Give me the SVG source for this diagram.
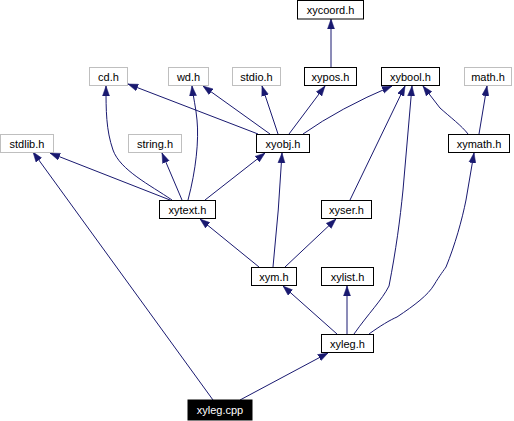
<svg xmlns="http://www.w3.org/2000/svg" width="514" height="421" viewBox="0 0 514 421">
<style>
.n rect{fill:#fff;stroke:#000;stroke-width:1}
.g rect{stroke:#bfbfbf}
.n text{font-family:"Liberation Sans",Arial,sans-serif;font-size:11px;text-anchor:middle;fill:#000}
.r rect{fill:#000}
.r text{fill:#fff}
.e path{fill:none;stroke:#191970;stroke-width:1;marker-end:url(#ah)}
</style>
<defs>
<marker id="ah" markerUnits="userSpaceOnUse" markerWidth="10" markerHeight="8" refX="10" refY="4" orient="auto">
<path d="M0,0.5 L10,4 L0,7.5 z" fill="#191970" stroke="#191970" stroke-width="0.5"/>
</marker>
</defs>
<rect width="514" height="421" fill="#fff"/>
<g class="e" id="connectors">
<path d="M331,67 L331,19"/>
<path d="M289,134 L325,86"/>
<path d="M303,134 Q340,108 392,86"/>
<path d="M278,134 L262,86"/>
<path d="M270,134 L203,86"/>
<path d="M258,134 L128,84"/>
<path d="M468,134 C462,126 450,117 440,108 L423,86"/>
<path d="M479,134 L487,86"/>
<path d="M170,200 L50,153"/>
<path d="M182,200 L162,153"/>
<path d="M172,200 C150,185 120,170 113,150 C106,130 106,110 106,86"/>
<path d="M188,200 C196,170 199,140 197,120 C196,108 193,96 192,86"/>
<path d="M205,200 L265,153"/>
<path d="M259,267 L200,219"/>
<path d="M273,267 Q279,210 282,153"/>
<path d="M285,267 L336,219"/>
<path d="M350,200 L405,86"/>
<path d="M337,334 L283,286"/>
<path d="M347,334 L347,286"/>
<path d="M354,334 C368,314 382,300 389,286 C396,250 400,220 403,190 L412,86"/>
<path d="M369,334 C380,326 390,320 397,317 C415,305 428,295 434,285 C440,275 444,270 446,267 C455,245 462,220 466,200 L474,153"/>
<path d="M213,400 L33,152"/>
<path d="M240,400 L328,353"/>
</g>
<g class="n" id="xycoord"><rect x="297.5" y="0.5" width="66" height="18.5"/><text x="330.5" y="14">xycoord.h</text></g>
<g class="n" id="xypos"><rect x="304.5" y="67.5" width="52" height="18"/><text x="330.5" y="80.5">xypos.h</text></g>
<g class="n" id="xybool"><rect x="381.5" y="67.5" width="58" height="18"/><text x="410.5" y="80.5">xybool.h</text></g>
<g class="n g" id="math"><rect x="464.5" y="67.5" width="47" height="18"/><text x="488" y="80.5">math.h</text></g>
<g class="n g" id="stdio"><rect x="232.5" y="67.5" width="48" height="18"/><text x="256.5" y="80.5">stdio.h</text></g>
<g class="n g" id="wd"><rect x="168.5" y="67.5" width="40" height="18"/><text x="188.5" y="80.5">wd.h</text></g>
<g class="n g" id="cd"><rect x="89.5" y="67.5" width="38" height="18"/><text x="108.5" y="80.5">cd.h</text></g>
<g class="n g" id="stdlib"><rect x="0.5" y="134.5" width="53" height="18"/><text x="27" y="147.5">stdlib.h</text></g>
<g class="n g" id="string"><rect x="128.5" y="134.5" width="53" height="18"/><text x="155" y="147.5">string.h</text></g>
<g class="n" id="xyobj"><rect x="256.5" y="134.5" width="53" height="18"/><text x="283" y="147.5">xyobj.h</text></g>
<g class="n" id="xymath"><rect x="448.5" y="134.5" width="61" height="18"/><text x="479" y="147.5">xymath.h</text></g>
<g class="n" id="xytext"><rect x="159.5" y="200.5" width="56" height="18"/><text x="187.5" y="213.5">xytext.h</text></g>
<g class="n" id="xyser"><rect x="321.5" y="200.5" width="50" height="18"/><text x="346.5" y="213.5">xyser.h</text></g>
<g class="n" id="xym"><rect x="251.5" y="267.5" width="45" height="18"/><text x="274" y="280.5">xym.h</text></g>
<g class="n" id="xylist"><rect x="321.5" y="267.5" width="52" height="18"/><text x="347.5" y="280.5">xylist.h</text></g>
<g class="n" id="xyleg"><rect x="321.5" y="334.5" width="52" height="18"/><text x="347.5" y="347.5">xyleg.h</text></g>
<g class="n r" id="xylegcpp"><rect x="188" y="400" width="64" height="20"/><text x="220" y="414">xyleg.cpp</text></g>
</svg>
